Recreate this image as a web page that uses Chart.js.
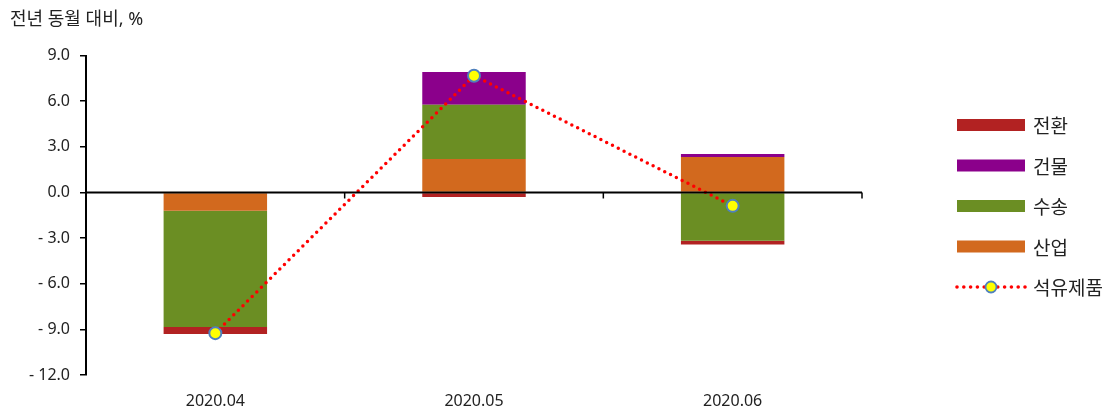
<!DOCTYPE html>
<html lang="ko">
<head>
  <meta charset="UTF-8">
  <title>석유제품 소비 증감 기여도</title>
  <script src="https://cdn.jsdelivr.net/npm/chart.js"></script>
  <style>
    html, body { margin: 0; padding: 0; background: #fff; }
    #wrap { width: 1113px; height: 408px; }
  </style>
</head>
<body>
  <div id="wrap"><canvas id="chart"></canvas></div>

  <script>
    // 데이터
    const months = ['2020.04', '2020.05', '2020.06'];
    const industry = [-1.2, 2.2, 2.33];      // 산업
    const transport = [-7.65, 3.57, -3.18];  // 수송
    const building = [0, 2.15, 0.2];         // 건물
    const conversion = [-0.45, -0.3, -0.24]; // 전환
    const petroleum = [-9.25, 7.68, -0.88];  // 석유제품
    const yTicks = [-12, -9, -6, -3, 0, 3, 6, 9];
    const legendOrder = ['전환', '건물', '수송', '산업', '석유제품'];

    Chart.defaults.font.family = "'Noto Sans', 'Noto Sans CJK KR', sans-serif";
    Chart.defaults.color = '#222';

    // 0 기준선 + 범례
    const extras = {
      id: 'extras',
      afterDatasetsDraw(chart) {
        const { ctx, chartArea, scales } = chart;
        const y0 = scales.y.getPixelForValue(0);
        ctx.save();
        ctx.strokeStyle = '#000';
        ctx.lineWidth = 2;
        ctx.beginPath();
        ctx.moveTo(chartArea.left, y0);
        ctx.lineTo(chartArea.right, y0);
        ctx.stroke();
        const step = scales.x.getPixelForValue(1) - scales.x.getPixelForValue(0);
        ctx.lineWidth = 1.5;
        months.forEach((m, i) => {
          const bx = scales.x.getPixelForValue(i) + step / 2;
          ctx.beginPath();
          ctx.moveTo(bx, y0);
          ctx.lineTo(bx, y0 + 6);
          ctx.stroke();
        });
        ctx.restore();
      },
      afterDraw(chart) {
        const { ctx, chartArea } = chart;
        const x = chartArea.right + 95;
        let y = 125;
        ctx.save();
        ctx.font = "19px 'Noto Sans CJK KR', sans-serif";
        ctx.textBaseline = 'middle';
        legendOrder.forEach(name => {
          const ds = chart.data.datasets.find(d => d.label === name);
          if (ds.type === 'line') {
            ctx.fillStyle = ds.borderColor;
            for (let dx = 0; dx <= 68; dx += 6.8) {
              ctx.beginPath();
              ctx.arc(x + dx, y, 1.8, 0, Math.PI * 2);
              ctx.fill();
            }
            ctx.beginPath();
            ctx.arc(x + 34, y, 5.5, 0, Math.PI * 2);
            ctx.fillStyle = ds.pointBackgroundColor;
            ctx.fill();
            ctx.lineWidth = 1.8;
            ctx.strokeStyle = ds.pointBorderColor;
            ctx.stroke();
          } else {
            ctx.fillStyle = ds.backgroundColor;
            ctx.fillRect(x, y - 6, 68, 12);
          }
          ctx.fillStyle = '#222';
          ctx.fillText(name, x + 76, y + 1);
          y += 40.5;
        });
        ctx.restore();
      }
    };

    new Chart(document.getElementById('chart'), {
      data: {
        labels: months,
        datasets: [
          { type: 'bar', label: '산업', data: industry, backgroundColor: '#d2691e', order: 1 },
          { type: 'bar', label: '수송', data: transport, backgroundColor: '#6b8e23', order: 1 },
          { type: 'bar', label: '건물', data: building, backgroundColor: '#8b008b', order: 1 },
          { type: 'bar', label: '전환', data: conversion, backgroundColor: '#b22222', order: 1 },
          {
            type: 'line', label: '석유제품', data: petroleum, stack: 'line', order: 0,
            borderColor: '#ff0000', borderWidth: 3.5, borderDash: [0, 6.5], borderCapStyle: 'round',
            tension: 0, fill: false,
            pointRadius: 6, pointBorderWidth: 2,
            pointBackgroundColor: '#ffff00', pointBorderColor: '#4f81bd'
          }
        ]
      },
      options: {
        responsive: true,
        maintainAspectRatio: false,
        animation: false,
        layout: { padding: { left: 10, right: 251, top: 0, bottom: 0 } },
        datasets: { bar: { barPercentage: 0.4, categoryPercentage: 1 } },
        plugins: {
          legend: { display: false },
          tooltip: { enabled: false },
          title: {
            display: true, text: '전년 동월 대비, %', align: 'start',
            font: { size: 18, weight: 'normal' }, color: '#222',
            padding: { top: 9, bottom: 25 }
          }
        },
        scales: {
          x: {
            stacked: true,
            grid: { display: false },
            border: { display: false },
            ticks: { padding: 9, font: { size: 16 }, color: '#222' },
            afterFit(s) { s.height = 33; }
          },
          y: {
            stacked: true,
            min: -12, max: 9,
            afterBuildTicks(s) { s.ticks = yTicks.map(v => ({ value: v })); },
            ticks: {
              padding: 10, font: { size: 16 }, color: '#222',
              callback: v => v < 0 ? '- ' + Math.abs(v).toFixed(1) : v.toFixed(1)
            },
            grid: { drawOnChartArea: false, drawTicks: true, tickLength: 6, color: '#000', lineWidth: 1.5 },
            border: { color: '#000', width: 2 },
            afterFit(s) { s.width = 76; }
          }
        }
      },
      plugins: [extras]
    });
  </script>
</body>
</html>
